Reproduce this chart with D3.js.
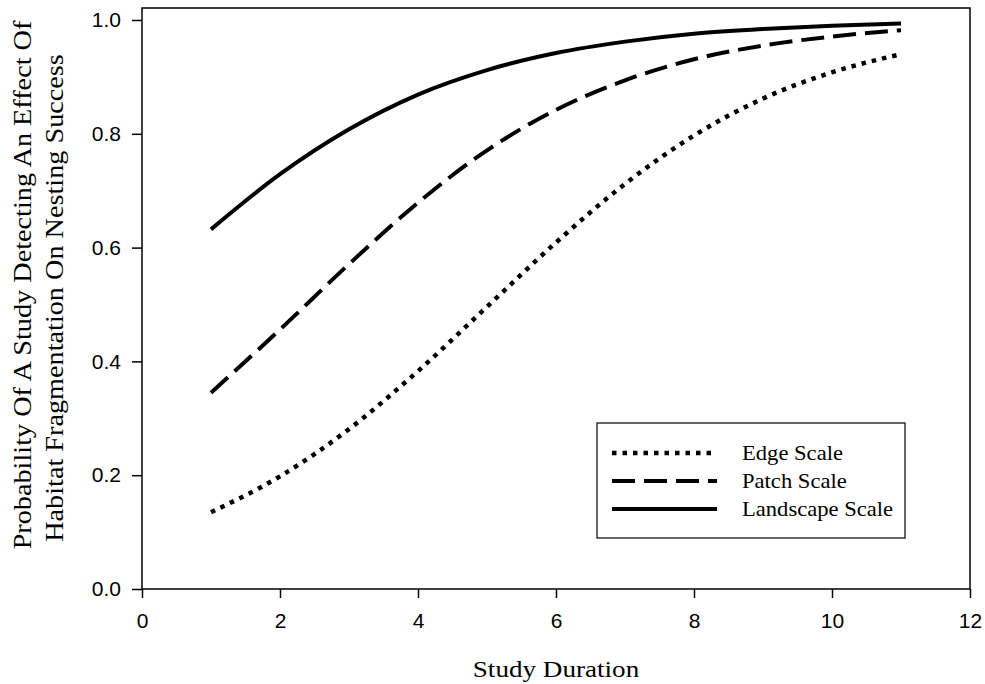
<!DOCTYPE html>
<html>
<head>
<meta charset="utf-8">
<script src="https://cdn.jsdelivr.net/npm/d3@7"></script>
<style>
  body { margin: 0; background: #fff; }
  svg { display: block; }
</style>
</head>
<body>
<svg width="985" height="684"></svg>
<script>
// study duration (years) and probability per scale
const duration = [1, 2, 3, 4, 5, 6, 7, 8, 9, 10, 11];
const edge = [0.135, 0.198, 0.281, 0.383, 0.496, 0.609, 0.712, 0.797, 0.862, 0.908, 0.940];
const patch = [0.345, 0.456, 0.571, 0.679, 0.771, 0.842, 0.894, 0.931, 0.955, 0.971, 0.982];
const landscape = [0.632, 0.729, 0.808, 0.869, 0.912, 0.942, 0.962, 0.976, 0.984, 0.990, 0.994];
const xTicks = [0, 2, 4, 6, 8, 10, 12];
const yTicks = [0.0, 0.2, 0.4, 0.6, 0.8, 1.0];

const series = [
  {name: 'Edge Scale', values: edge, dash: '4.5,6', width: 4.5},
  {name: 'Patch Scale', values: patch, dash: '23,9', width: 4},
  {name: 'Landscape Scale', values: landscape, dash: null, width: 4}
];

const serif = '"Liberation Serif", "Times New Roman", serif';
const stretch = 1.13; // the serif text in the figure is drawn a bit wide

const svg = d3.select('svg');
const plotL = 142, plotR = 970, plotT = 8, plotB = 589;

const x = d3.scaleLinear().domain([0, 12]).range([plotL, plotR]);
const y = d3.scaleLinear().domain([0, 1.0211]).range([plotB, plotT]);

// frame
svg.append('rect')
  .attr('x', plotL).attr('y', plotT)
  .attr('width', plotR - plotL).attr('height', plotB - plotT)
  .attr('fill', 'none').attr('stroke', '#000').attr('stroke-width', 1.5);

const xAxis = svg.append('g')
  .attr('transform', `translate(0,${plotB})`)
  .call(d3.axisBottom(x).tickValues(xTicks).tickSize(9).tickPadding(15).tickFormat(d3.format('d')));
const yAxis = svg.append('g')
  .attr('transform', `translate(${plotL},0)`)
  .call(d3.axisLeft(y).tickValues(yTicks).tickSize(10).tickPadding(11).tickFormat(d3.format('.1f')));

[xAxis, yAxis].forEach(g => {
  g.select('.domain').remove();
  g.selectAll('line').attr('stroke', '#000').attr('stroke-width', 1.5);
  g.selectAll('text').attr('fill', '#000')
    .style('font-family', '"Liberation Sans", Arial, sans-serif')
    .style('font-size', '21px');
});

const line = d3.line()
  .x((d, i) => x(duration[i]))
  .y(d => y(d))
  .curve(d3.curveMonotoneX);

svg.selectAll('path.series')
  .data(series)
  .enter()
  .append('path')
  .attr('class', 'series')
  .attr('d', d => line(d.values))
  .attr('fill', 'none')
  .attr('stroke', '#000')
  .attr('stroke-width', d => d.width)
  .attr('stroke-dasharray', d => d.dash);

// legend
const legend = svg.append('g');
legend.append('rect')
  .attr('x', 597).attr('y', 423).attr('width', 308).attr('height', 115)
  .attr('fill', '#fff').attr('stroke', '#000').attr('stroke-width', 1.2);
const rows = legend.selectAll('g.row')
  .data(series)
  .enter()
  .append('g')
  .attr('class', 'row')
  .attr('transform', (d, i) => `translate(0,${453 + i * 28})`);
rows.append('line')
  .attr('x1', 612).attr('x2', 717)
  .attr('stroke', '#000')
  .attr('stroke-width', d => d.width)
  .attr('stroke-dasharray', d => d.dash);
rows.append('text')
  .attr('transform', `translate(742,0) scale(${stretch},1)`)
  .attr('dy', '0.35em')
  .style('font-family', serif)
  .style('font-size', '20px')
  .text(d => d.name);

// axis titles
svg.append('text')
  .attr('transform', `translate(556,677) scale(${stretch},1)`)
  .attr('text-anchor', 'middle')
  .style('font-family', serif)
  .style('font-size', '24px')
  .text('Study Duration');

svg.append('text')
  .attr('transform', `translate(31,285) rotate(-90) scale(${stretch},1)`)
  .attr('text-anchor', 'middle')
  .style('font-family', serif)
  .style('font-size', '25px')
  .text('Probability Of A Study Detecting An Effect Of');
svg.append('text')
  .attr('transform', `translate(63,298) rotate(-90) scale(${stretch},1)`)
  .attr('text-anchor', 'middle')
  .style('font-family', serif)
  .style('font-size', '25px')
  .text('Habitat Fragmentation On Nesting Success');
</script>
</body>
</html>
